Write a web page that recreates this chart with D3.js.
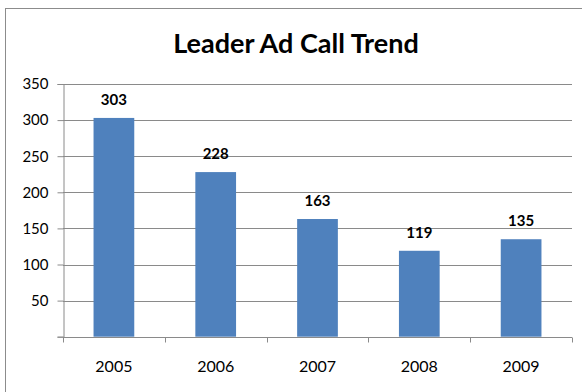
<!DOCTYPE html>
<html>
<head>
<meta charset="utf-8">
<script src="https://cdn.jsdelivr.net/npm/d3@7"></script>
<style>
  html, body { margin: 0; padding: 0; background: #fff; }
  svg { display: block; }
  text { font-family: Lato, "Open Sans", sans-serif; fill: #000; }
</style>
</head>
<body>
<script>
// Annual leader ad call counts
const years = ["2005", "2006", "2007", "2008", "2009"];
const calls = [303, 228, 163, 119, 135];
const yTicks = [0, 50, 100, 150, 200, 250, 300, 350];
const chartTitle = "Leader Ad Call Trend";

const W = 582, H = 392;
const plot = { left: 63, right: 572, top: 84, bottom: 336.7 };

const svg = d3.select("body").append("svg")
  .attr("width", W).attr("height", H);

// chart frame
svg.append("rect")
  .attr("x", 5.5).attr("y", 8.5)
  .attr("width", 640).attr("height", 440)
  .attr("fill", "#fff").attr("stroke", "#8c8c8c").attr("stroke-width", 1);

const x = d3.scaleBand()
  .domain(years)
  .range([plot.left, plot.right])
  .paddingInner(0.6)
  .paddingOuter(0.3);

const xEdges = d3.scaleBand().domain(years).range([plot.left, plot.right]).padding(0);

const y = d3.scaleLinear().domain([0, 350]).range([plot.bottom, plot.top]);

// horizontal gridlines
svg.append("g")
  .selectAll("line")
  .data(yTicks.filter(d => d > 0))
  .join("line")
  .attr("x1", plot.left).attr("x2", plot.right)
  .attr("y1", d => Math.round(y(d)) + 0.5).attr("y2", d => Math.round(y(d)) + 0.5)
  .attr("stroke", "#8a8a8a").attr("stroke-width", 1);

// y axis
const yAxis = svg.append("g")
  .attr("transform", `translate(${plot.left + 0.5},0)`)
  .call(d3.axisLeft(y).tickValues(yTicks).tickSize(6).tickPadding(9)
    .tickFormat(d => d === 0 ? "" : d));
yAxis.select(".domain").attr("stroke", "#8a8a8a");
yAxis.selectAll(".tick line").attr("stroke", "#8a8a8a");
yAxis.selectAll(".tick text").attr("font-size", 15).attr("fill", "#000")
  .style("font-family", "Lato, sans-serif");

// bars
svg.append("g")
  .selectAll("rect")
  .data(years.map((yr, i) => ({ yr, v: calls[i] })))
  .join("rect")
  .attr("x", d => x(d.yr))
  .attr("y", d => y(d.v))
  .attr("width", x.bandwidth())
  .attr("height", d => y(0) - y(d.v))
  .attr("fill", "#4f81bd");

// x axis
const xAxisG = svg.append("g")
  .attr("transform", `translate(0,${Math.round(plot.bottom) + 0.5})`);
xAxisG.append("line")
  .attr("x1", plot.left).attr("x2", plot.right)
  .attr("stroke", "#8a8a8a");
const edges = years.map(d => xEdges(d)).concat([plot.right]);
xAxisG.selectAll("line.edge")
  .data(edges)
  .join("line").attr("class", "edge")
  .attr("x1", d => Math.round(d) + 0.5).attr("x2", d => Math.round(d) + 0.5)
  .attr("y1", 0).attr("y2", 5)
  .attr("stroke", "#8a8a8a");
xAxisG.selectAll("text")
  .data(years)
  .join("text")
  .attr("x", d => x(d) + x.bandwidth() / 2)
  .attr("y", 34)
  .attr("text-anchor", "middle")
  .attr("font-size", 16)
  .text(d => d);

// value labels
svg.append("g")
  .selectAll("text")
  .data(years.map((yr, i) => ({ yr, v: calls[i] })))
  .join("text")
  .attr("x", d => x(d.yr) + x.bandwidth() / 2)
  .attr("y", d => y(d.v) - 13)
  .attr("text-anchor", "middle")
  .attr("font-size", 15)
  .attr("font-weight", "bold")
  .text(d => d.v);

// title
svg.append("text")
  .attr("x", 296).attr("y", 53)
  .attr("text-anchor", "middle")
  .attr("font-size", 27)
  .attr("font-weight", "bold")
  .text(chartTitle);
</script>
</body>
</html>
